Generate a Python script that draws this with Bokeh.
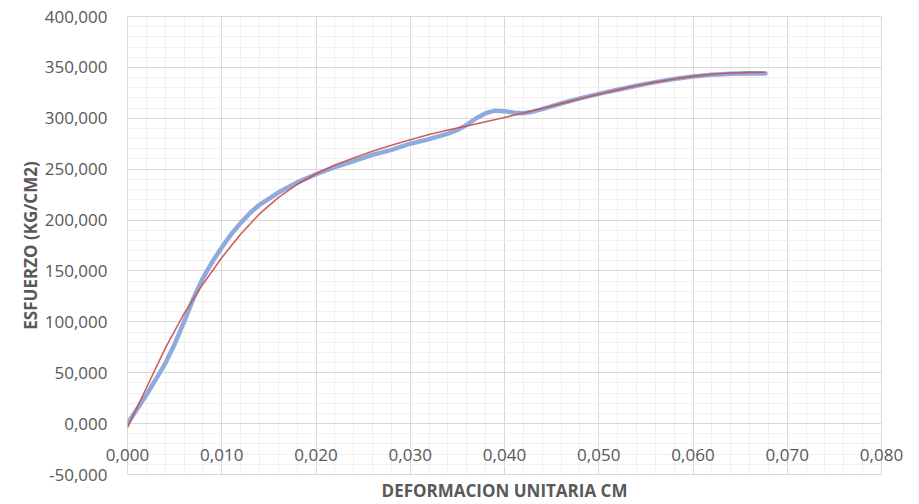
from bokeh.plotting import figure
from bokeh.models import Range1d, FixedTicker, LinearAxis
from bokeh.embed import file_html
from bokeh.resources import INLINE
import numpy as np

# ---- data ----
strain_measured = [0, 0.002, 0.004, 0.005, 0.006, 0.007, 0.008, 0.009, 0.010, 0.011,
                   0.012, 0.013, 0.014, 0.016, 0.018, 0.020, 0.022, 0.024, 0.026, 0.028,
                   0.030, 0.032, 0.034, 0.035, 0.036, 0.037, 0.038, 0.039, 0.040, 0.041,
                   0.042, 0.043, 0.044, 0.046, 0.048, 0.050, 0.052, 0.054, 0.056, 0.058,
                   0.060, 0.062, 0.064, 0.066, 0.0677]
stress_measured = [0, 28000, 59000, 78000, 100000, 123000, 143000, 159000, 173000, 186000,
                   197000, 207000, 215000, 227000, 237000, 245000, 252000, 258000, 264000, 269000,
                   275000, 279500, 285000, 288500, 293500, 300000, 305000, 307500, 307000, 305500,
                   305000, 306500, 309000, 314500, 319500, 324000, 328000, 332000, 335500, 338500,
                   341000, 342800, 343800, 344300, 344000]

strain_trend = [0, 0.002, 0.004, 0.006, 0.008, 0.010, 0.012, 0.014, 0.016, 0.018,
                0.020, 0.022, 0.024, 0.026, 0.028, 0.030, 0.032, 0.034, 0.036, 0.038,
                0.040, 0.042, 0.044, 0.046, 0.048, 0.050, 0.052, 0.054, 0.056, 0.058,
                0.060, 0.062, 0.064, 0.066, 0.0677]
stress_trend = [-4000, 35000, 74000, 108000, 137000, 163000, 186000, 206000, 222000, 235000,
                245500, 254000, 261000, 267500, 273500, 279000, 284000, 288500, 292500, 296500,
                300800, 305200, 309700, 314400, 319100, 323600, 327900, 331900, 335500, 338600,
                341200, 343200, 344500, 345100, 345200]

x_ticks = [0.0, 0.01, 0.02, 0.03, 0.04, 0.05, 0.06, 0.07, 0.08]
x_tick_labels = ["0,000", "0,010", "0,020", "0,030", "0,040", "0,050", "0,060", "0,070", "0,080"]
y_ticks = [-50000, 0, 50000, 100000, 150000, 200000, 250000, 300000, 350000, 400000]
y_tick_labels = ["-50,000", "0,000", "50,000", "100,000", "150,000", "200,000",
                 "250,000", "300,000", "350,000", "400,000"]

x_title = "DEFORMACION UNITARIA CM"
y_title = "ESFUERZO (KG/CM2)"

FONT = "Open Sans"
TXT = "#595959"

x_minor = list(np.round(np.arange(0, 0.0801, 0.002), 4))
y_minor = list(np.arange(-50000, 400001, 10000))

p = figure(width=919, height=504, output_backend="svg", toolbar_location=None,
           x_range=Range1d(0, 0.08), y_range=Range1d(-50000, 400000),
           min_border_left=127, min_border_right=38, min_border_top=16, min_border_bottom=27)
p.outline_line_color = "#d9d9d9"
p.background_fill_color = "white"
p.border_fill_color = "white"

# y axis
ya = p.yaxis[0]
ya.ticker = FixedTicker(ticks=y_ticks)
ya.major_label_overrides = {t: l for t, l in zip(y_ticks, y_tick_labels)}
ya.axis_line_color = None
ya.major_tick_line_color = None
ya.minor_tick_line_color = None
ya.major_label_text_font = FONT
ya.major_label_text_font_size = "17px"
ya.major_label_text_color = TXT
ya.major_label_standoff = 14
ya.axis_label = y_title
ya.axis_label_text_font = FONT
ya.axis_label_text_font_style = "bold"
ya.axis_label_text_font_size = "17px"
ya.axis_label_text_color = TXT
ya.axis_label_standoff = 0

# x axis: tick labels lifted up to sit just under the y = 0 line
xa = p.xaxis[0]
xa.ticker = FixedTicker(ticks=x_ticks)
xa.major_label_overrides = {t: l for t, l in zip(x_ticks, x_tick_labels)}
xa.axis_line_color = None
xa.major_tick_line_color = None
xa.minor_tick_line_color = None
xa.major_tick_in = 0
xa.major_tick_out = 0
xa.major_label_text_font = FONT
xa.major_label_text_font_size = "17px"
xa.major_label_text_color = TXT
xa.major_label_standoff = -26

# x title axis at the bottom
ta = LinearAxis(ticker=FixedTicker(ticks=[]), axis_label=x_title)
ta.axis_line_color = None
ta.major_tick_line_color = None
ta.minor_tick_line_color = None
ta.major_tick_in = 0
ta.major_tick_out = 0
ta.axis_label_text_font = FONT
ta.axis_label_text_font_style = "bold"
ta.axis_label_text_font_size = "17px"
ta.axis_label_text_color = TXT
ta.axis_label_standoff = 4
p.add_layout(ta, "below")

# grids
p.xgrid.ticker = FixedTicker(ticks=x_ticks, minor_ticks=x_minor)
p.ygrid.ticker = FixedTicker(ticks=y_ticks, minor_ticks=y_minor)
for g in (p.xgrid[0], p.ygrid[0]):
    g.grid_line_color = "#d9d9d9"
    g.grid_line_width = 1
    g.minor_grid_line_color = "#f0f0f0"
    g.minor_grid_line_width = 1

# series
p.line(strain_measured, stress_measured, line_width=4.5, line_color="#8faadc",
       line_join="round", line_cap="round")
p.line(strain_trend, stress_trend, line_width=1.6, line_color="#c8504d", line_alpha=0.9,
       line_join="round")

open("out.html", "w").write(file_html(p, INLINE))
